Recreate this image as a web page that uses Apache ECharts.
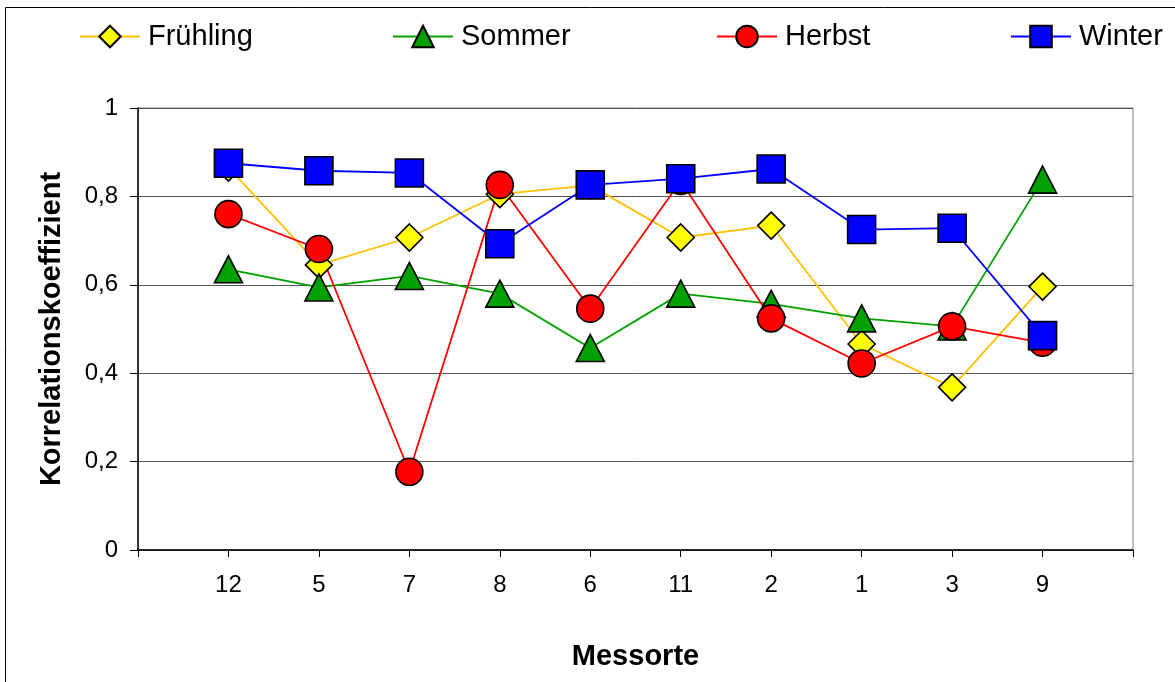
<!DOCTYPE html>
<html style="height: 100%">

<head>
    <meta charset="utf-8">
    <script src="https://cdn.jsdelivr.net/npm/echarts@6/dist/echarts.min.js"></script>
</head>

<body style="height: 100%; margin: 0; background: #fff">
    <div id="main" style="width: 1175px;height:682px;"></div>
    <script type="text/javascript">
        // Messorte in the order shown on the x axis
        var messorte = ['12', '5', '7', '8', '6', '11', '2', '1', '3', '9'];
        var fruehling = [0.865, 0.645, 0.707, 0.805, 0.825, 0.707, 0.734, 0.466, 0.368, 0.596];
        var sommer = [0.635, 0.594, 0.620, 0.580, 0.457, 0.580, 0.557, 0.524, 0.506, 0.838];
        var herbst = [0.760, 0.681, 0.177, 0.826, 0.546, 0.835, 0.524, 0.422, 0.506, 0.469];
        var winter = [0.875, 0.858, 0.853, 0.693, 0.826, 0.840, 0.862, 0.725, 0.728, 0.485];
        var yTicks = [0, 0.2, 0.4, 0.6, 0.8, 1];

        var font = '"Liberation Sans", Arial, sans-serif';

        // empty slot at both ends, like the excel axis
        var xCats = [''].concat(messorte).concat(['']);
        function pad(arr) {
            return [null].concat(arr).concat([null]);
        }

        function makeSeries(name, data, symbol, size, fill, line) {
            return {
                name: name,
                type: 'line',
                data: pad(data),
                symbol: symbol,
                symbolSize: size,
                showAllSymbol: true,
                connectNulls: false,
                itemStyle: {
                    color: fill,
                    borderColor: '#000',
                    borderWidth: 1.6
                },
                lineStyle: {
                    color: line,
                    width: 1.8
                },
                emphasis: { disabled: true }
            };
        }

        function makeLegend(name, left) {
            return {
                data: [name],
                left: left,
                top: 22,
                padding: 0,
                itemWidth: 60,
                itemHeight: 27,
                itemGap: 0,
                textStyle: {
                    fontFamily: font,
                    fontSize: 29,
                    color: '#000',
                    padding: [0, 0, 0, 3]
                }
            };
        }

        var myChart = echarts.init(document.getElementById('main'));
        myChart.setOption({
            animation: false,
            textStyle: { fontFamily: font },
            graphic: [{
                type: 'rect',
                left: 3,
                top: 5,
                shape: { width: 1200, height: 700 },
                style: { fill: 'none', stroke: '#000', lineWidth: 1 },
                silent: true
            }],
            legend: [
                makeLegend('Frühling', 79),
                makeLegend('Sommer', 392),
                makeLegend('Herbst', 716),
                makeLegend('Winter', 1010)
            ],
            grid: {
                left: 138,
                top: 108,
                right: 42,
                bottom: 132,
                show: true,
                borderColor: '#808080',
                borderWidth: 1
            },
            xAxis: {
                type: 'category',
                data: xCats,
                boundaryGap: false,
                name: 'Messorte',
                nameLocation: 'middle',
                nameGap: 92,
                nameTextStyle: {
                    fontSize: 29,
                    fontWeight: 'bold',
                    color: '#000'
                },
                axisLine: { lineStyle: { color: '#000', width: 1.5 } },
                axisTick: { interval: 0, length: 7, lineStyle: { color: '#000' } },
                axisLabel: {
                    interval: 0,
                    margin: 23,
                    fontSize: 24,
                    color: '#000'
                },
                splitLine: { show: false }
            },
            yAxis: {
                type: 'value',
                min: yTicks[0],
                max: yTicks[yTicks.length - 1],
                interval: 0.2,
                name: 'Korrelationskoeffizient',
                nameLocation: 'middle',
                nameGap: 72,
                nameTextStyle: {
                    fontSize: 29,
                    fontWeight: 'bold',
                    color: '#000'
                },
                axisLine: { show: true, lineStyle: { color: '#000', width: 1.5 } },
                axisTick: { show: true, length: 8, lineStyle: { color: '#000' } },
                axisLabel: {
                    margin: 20,
                    fontSize: 24,
                    color: '#000',
                    formatter: function (v) {
                        return String(Math.round(v * 10) / 10).replace('.', ',');
                    }
                },
                splitLine: { show: true, lineStyle: { color: '#555', width: 1 } }
            },
            series: [
                makeSeries('Frühling', fruehling, 'diamond', [27, 27], '#ffff00', '#ffc000'),
                makeSeries('Sommer', sommer, 'triangle', [28, 27], '#00a000', '#00a000'),
                makeSeries('Herbst', herbst, 'circle', 27, '#ff0000', '#ff0000'),
                makeSeries('Winter', winter, 'rect', 28, '#0000ff', '#0000ff')
            ]
        });
    </script>
</body>

</html>
